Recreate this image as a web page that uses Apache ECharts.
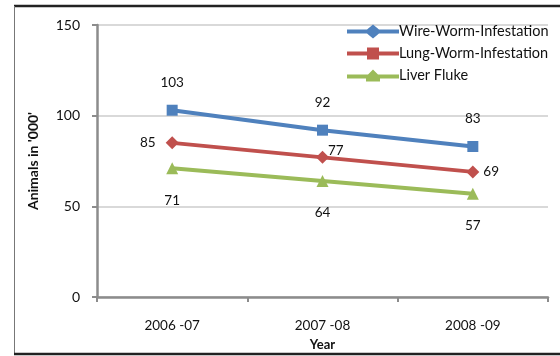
<!DOCTYPE html>
<html><head><meta charset="utf-8">
<script src="https://cdn.jsdelivr.net/npm/echarts@6/dist/echarts.min.js"></script>
<style>html,body{margin:0;padding:0;background:#fff}#c{width:560px;height:356px}</style>
</head><body><div id="c"></div>
<script>
const categories = ['2006 -07', '2007 -08', '2008 -09'];
const wireWorm = [103, 92, 83];
const lungWorm = [85, 77, 69];
const liverFluke = [71, 64, 57];
const seriesNames = ['Wire-Worm-Infestation', 'Lung-Worm-Infestation', 'Liver Fluke'];
const yTicks = { min: 0, max: 150, interval: 50 };

const FONT = 'Lato';
const blue = '#4f81bd', red = '#c0504d', green = '#9bbb59';
const iconDiamond = 'path://M0,5 L20,5 L26,0 L32,5 L52,5 L52,9 L32,9 L26,14 L20,9 L0,9 Z';
const iconSquare = 'path://M0,5 L20,5 L20,1 L32,1 L32,5 L52,5 L52,9 L32,9 L32,13 L20,13 L20,9 L0,9 Z';
const iconTri = 'path://M0,5 L21,5 L26,0 L31,5 L52,5 L52,9 L33,9 L33,12 L19,12 L19,9 L0,9 Z';

const chart = echarts.init(document.getElementById('c'), null, { renderer: 'canvas' });
const lbl = { show: true, color: '#111', fontFamily: FONT, fontSize: 13.5 };
chart.setOption({
  animation: false,
  graphic: [
    { type: 'line', shape: { x1: 14, y1: 6, x2: 560, y2: 6 }, style: { stroke: '#222', lineWidth: 2.5 } },
    { type: 'line', shape: { x1: 14.5, y1: 6, x2: 14.5, y2: 354 }, style: { stroke: '#777', lineWidth: 1 } },
    { type: 'line', shape: { x1: 14, y1: 354, x2: 560, y2: 354 }, style: { stroke: '#222', lineWidth: 2.5 } }
  ],
  grid: { left: 97, right: 12, top: 25, bottom: 59 },
  legend: {
    orient: 'vertical', left: 342, top: 19, itemGap: 7,
    itemWidth: 52, itemHeight: 14,
    textStyle: { fontFamily: FONT, fontSize: 14.5, color: '#111', padding: [0, 0, 0, -5] },
    data: [
      { name: seriesNames[0], icon: iconDiamond },
      { name: seriesNames[1], icon: iconSquare },
      { name: seriesNames[2], icon: iconTri }
    ]
  },
  xAxis: {
    type: 'category', data: categories, boundaryGap: true,
    name: 'Year', nameLocation: 'middle', nameGap: 33,
    nameTextStyle: { fontFamily: FONT, fontSize: 13, fontWeight: 'bold', color: '#111' },
    axisLine: { lineStyle: { color: '#8c8c8c', width: 2.5 } },
    axisTick: { show: true, length: 5, lineStyle: { color: '#8c8c8c', width: 2 } },
    axisLabel: { fontFamily: FONT, fontSize: 13.5, color: '#111', margin: 22 }
  },
  yAxis: {
    type: 'value', min: yTicks.min, max: yTicks.max, interval: yTicks.interval,
    name: "Animals in '000'", nameLocation: 'middle', nameGap: 57, nameRotate: 90,
    nameTextStyle: { fontFamily: FONT, fontSize: 14, fontWeight: 'bold', color: '#111' },
    axisLine: { show: true, lineStyle: { color: '#8c8c8c', width: 2.5 } },
    axisTick: { show: true, length: 5, lineStyle: { color: '#8c8c8c', width: 2 } },
    axisLabel: { fontFamily: FONT, fontSize: 14, color: '#111', margin: 17 },
    splitLine: { lineStyle: { color: '#d9d9d9', width: 2 } }
  },
  series: [
    { name: seriesNames[0], type: 'line', data: wireWorm, symbol: 'rect', symbolSize: 11,
      color: blue, lineStyle: { width: 4, color: blue }, itemStyle: { color: blue },
      label: Object.assign({}, lbl, { position: 'top', distance: 15 }) },
    { name: seriesNames[1], type: 'line', symbol: 'diamond', symbolSize: 13,
      color: red, lineStyle: { width: 4, color: red }, itemStyle: { color: red },
      data: [
        { value: lungWorm[0], label: { position: 'left', distance: 10 } },
        { value: lungWorm[1], label: { position: 'right', distance: -1, offset: [0, -7] } },
        { value: lungWorm[2], label: { position: 'right', distance: 4 } }
      ],
      label: Object.assign({}, lbl) },
    { name: seriesNames[2], type: 'line', data: liverFluke, symbol: 'triangle', symbolSize: 12,
      color: green, lineStyle: { width: 4, color: green }, itemStyle: { color: green },
      label: Object.assign({}, lbl, { position: 'bottom', distance: 19 }) }
  ]
});
</script></body></html>
